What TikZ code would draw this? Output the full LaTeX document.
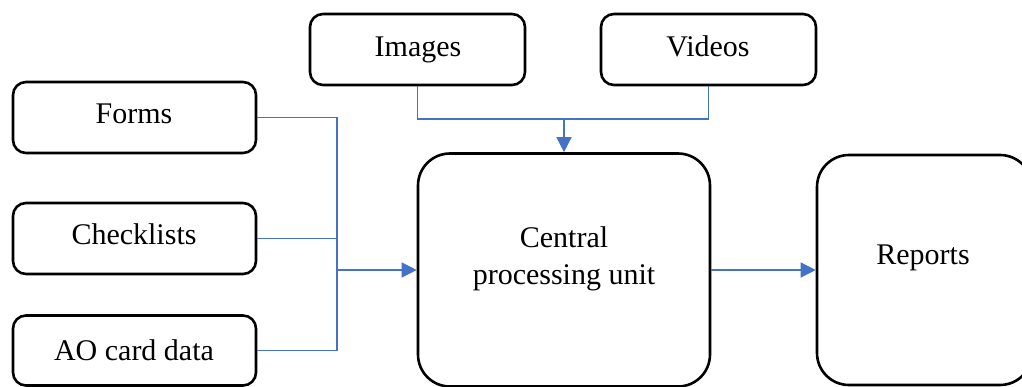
\documentclass[tikz,border=0pt]{standalone}
\usepackage{fontspec}
\setmainfont{Liberation Serif}
\usetikzlibrary{arrows.meta}
\definecolor{conn}{HTML}{4472C4}
\begin{document}
\begin{tikzpicture}[x=1pt,y=-1pt,
  box/.style={draw=black,line width=2.6pt,rounded corners=13pt,inner sep=0pt},
  bigbox/.style={draw=black,line width=2.6pt,rounded corners=32pt,inner sep=0pt},
  txt/.style={font=\fontsize{30}{37}\selectfont,align=center,inner sep=0pt,anchor=base},
  wire/.style={draw=conn,line width=1.3pt},
  arr/.style={wire,-{Triangle[length=15pt,width=15pt]}}]
\useasboundingbox (0,0) rectangle (1022,387);
\begin{scope}
\clip (0,0) rectangle (1022,387);
\node[box,minimum width=215pt,minimum height=71pt] (images) at (417.5,49.5) {};
\node[box,minimum width=215pt,minimum height=71pt] (videos) at (708.5,49.5) {};
\node[box,minimum width=243pt,minimum height=71pt] (forms) at (134.5,117.5) {};
\node[box,minimum width=243pt,minimum height=71pt] (checklists) at (134.5,238.5) {};
\node[box,minimum width=243pt,minimum height=70pt] (ao) at (134.5,350.5) {};
\node[bigbox,minimum width=292pt,minimum height=233pt] (cpu) at (564,270) {};
\node[bigbox,minimum width=215pt,minimum height=230pt] (reports) at (924.5,270) {};
\end{scope}
\node[txt] (imagest) at (418,57) {Images};
\node[txt] (videost) at (708,57) {Videos};
\node[txt] (formst) at (134,124) {Forms};
\node[txt] (checklistst) at (134,245) {Checklists};
\node[txt] (aot) at (134,360) {AO card data};
\node[txt] (cput) at (564,284) {Central\\processing unit};
\node[txt] (reportst) at (923,265) {Reports};
\coordinate (j) at (337,270);
\coordinate (m) at (564,119);
\draw[wire] (forms.east) -| (j);
\draw[wire] (ao.east) -| (j);
\draw[wire] (checklists.east) -- (checklists.east -| j);
\draw[arr] (j) -- (cpu.west);
\draw[wire] (images.south) |- (m) -| (videos.south);
\draw[arr] (m) -- (cpu.north);
\draw[arr] (cpu.east) -- (reports.west);
\end{tikzpicture}
\end{document}
